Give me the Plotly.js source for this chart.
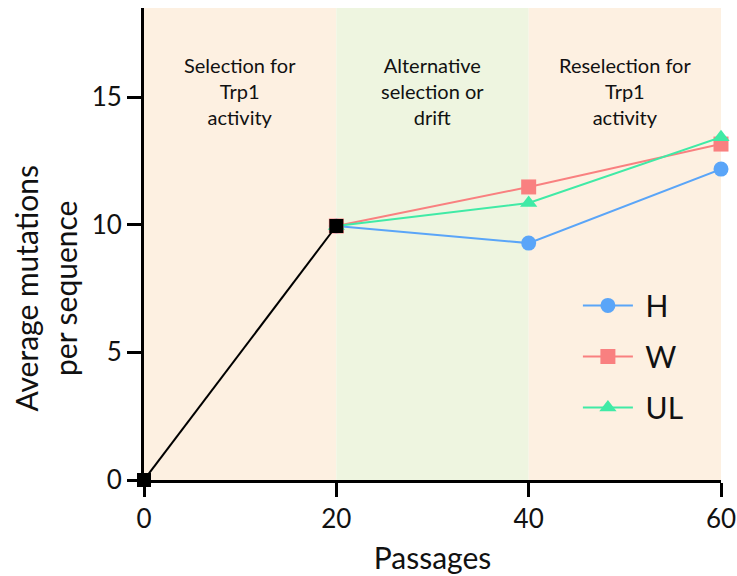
<!DOCTYPE html>
<html><head><meta charset="utf-8">
<script src="https://cdn.plot.ly/plotly-3.0.1.min.js"></script>
<style>body{margin:0;background:#fff}#c{width:737px;height:576px}</style>
</head><body><div id="c"></div>
<script>
const seriesNames = ["H", "W", "UL"];
const passages = [20, 40, 60];
const valH = [9.95, 9.28, 12.18];
const valW = [9.95, 11.48, 13.16];
const valUL = [9.95, 10.85, 13.43];
const basePassages = [0, 20];
const baseValues = [0, 9.95];
const phaseStart = [0, 20, 40];
const phaseEnd = [20, 40, 60];
const phaseLabels = ["Selection for<br>Trp1<br>activity", "Alternative<br>selection or<br>drift", "Reselection for<br>Trp1<br>activity"];
const phaseColors = ["#fdf0e1", "#eef5e0", "#fdf0e1"];
const yTitle = "Average mutations<br>per sequence";

const colors = ["#5aa5f8", "#f98080", "#40eaa6"];
const symbols = ["circle", "square", "triangle-up"];
const vals = [valH, valW, valUL];
const font = "Lato, 'Open Sans', sans-serif";

const traces = seriesNames.map((n, i) => ({
  x: passages, y: vals[i], name: "\u00a0" + n, type: "scatter", mode: "lines+markers",
  legendgroup: "g" + i,
  line: {color: colors[i], width: 2},
  marker: {color: colors[i], symbol: symbols[i], size: 15},
  cliponaxis: false
}));
traces.push({
  x: basePassages, y: baseValues, type: "scatter", mode: "lines+markers",
  showlegend: false, line: {color: "#000", width: 2},
  marker: {color: "#000", symbol: "square", size: 14}, cliponaxis: false
});

const shapes = phaseStart.map((s, i) => ({
  type: "rect", xref: "x", yref: "paper", x0: s, x1: phaseEnd[i], y0: 0, y1: 1,
  fillcolor: phaseColors[i], line: {width: 0}, layer: "below"
}));
const annotations = phaseLabels.map((t, i) => ({
  x: (phaseStart[i] + phaseEnd[i]) / 2, y: 15.22, xref: "x", yref: "y",
  text: t, showarrow: false, font: {family: font, size: 20, color: "#111"},
  align: "center", yanchor: "middle"
}));
annotations.push({
  x: 0, xref: "paper", y: 7.5, yref: "y", text: yTitle, textangle: -90,
  showarrow: false, xanchor: "center", yanchor: "middle", xshift: -98,
  font: {family: font, size: 30, color: "#111"}, align: "center"
});

const layout = {
  width: 737, height: 576,
  margin: {l: 144, r: 16, t: 8, b: 96},
  paper_bgcolor: "#fff", plot_bgcolor: "rgba(0,0,0,0)",
  font: {family: font, color: "#111"},
  shapes, annotations,
  xaxis: {
    range: [0, 60], tickvals: [0, 20, 40, 60], showgrid: false, zeroline: false,
    showline: true, linecolor: "#000", linewidth: 3,
    ticks: "outside", ticklen: 14, tickwidth: 3, tickcolor: "#000",
    tickfont: {size: 26, family: font, color: "#111"},
    title: {text: "Passages", font: {size: 30, family: font, color: "#111"}, standoff: 15}
  },
  yaxis: {
    range: [0, 18.49], tickvals: [0, 5, 10, 15], showgrid: false, zeroline: false,
    showline: true, linecolor: "#000", linewidth: 3,
    ticks: "outside", ticklen: 14, tickwidth: 3, tickcolor: "#000",
    tickfont: {size: 26, family: font, color: "#111"}
  },
  legend: {
    x: 0.752, y: 0.425, xanchor: "left", yanchor: "top",
    bgcolor: "rgba(0,0,0,0)", font: {size: 30, family: font, color: "#111"},
    tracegroupgap: 9, itemwidth: 50
  },
  showlegend: true
};
Plotly.newPlot("c", traces, layout, {displayModeBar: false, staticPlot: true});
</script></body></html>
